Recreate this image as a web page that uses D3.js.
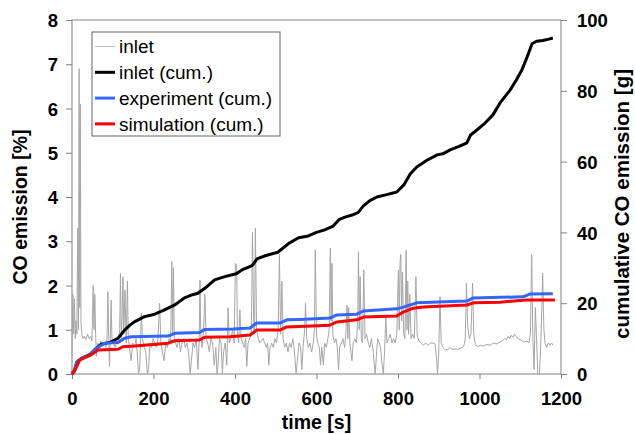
<!DOCTYPE html>
<html>
<head>
<meta charset="utf-8">
<script src="https://cdn.jsdelivr.net/npm/d3@7"></script>
<style>
  html, body { margin: 0; padding: 0; background: #fff; }
  svg { display: block; font-family: "Liberation Sans", Arial, sans-serif; }
</style>
</head>
<body>
<svg id="chart" width="635" height="434"></svg>
<script>
// ---------------- data ----------------
const xTicks = [0, 200, 400, 600, 800, 1000, 1200];
const leftTicks = [0, 1, 2, 3, 4, 5, 6, 7, 8];
const rightTicks = [0, 20, 40, 60, 80, 100];
const legendLabels = ["inlet", "inlet (cum.)", "experiment (cum.)", "simulation (cum.)"];

// inlet CO emission [%] vs time [s]
const inlet = [[0,0.4],[2,1.8],[4,0.9],[6,1.7],[8,0.8],[10,1.2],[12,0.9],[14,3.3],[16,1.0],[17.5,6.9],[19,1.5],[20.5,6.1],[22,1.2],[24,0.9],[27,0.8],[30,0.85],[34,0.78],[38,0.9],[42,0.8],[46,0.85],[49,0.75],[52,2.0],[54,1.0],[56,1.8],[58,0.9],[60,0.4],[63,0.7],[67,0.6],[71,0.75],[75,0.65],[79,0.7],[83,0.6],[86,0.8],[88,1.86],[90,0.9],[92,0.17],[94,0.8],[96,1.67],[98,0.8],[102,0.7],[106,0.6],[110,0.75],[114,0.7],[117,1.0],[119,2.27],[121,0.8],[123,1.3],[125,2.2],[127,0.9],[130,1.9],[133,0.7],[136,2.1],[138,0.8],[141,0.6],[145,0.3],[149,0.7],[153,0.6],[157,0.8],[160,0.5],[163,0.0],[166,0.1],[168,0.7],[170,1.37],[173,0.8],[177,0.6],[181,0.5],[185,0.0],[188,0.1],[191,0.7],[195,0.6],[199,0.8],[203,0.7],[207,0.6],[211,0.8],[215,1.6],[218,0.7],[222,0.5],[226,0.3],[230,0.7],[234,0.6],[238,0.8],[242,0.7],[245,2.54],[247,0.9],[249,2.4],[251,0.8],[254,0.7],[258,0.6],[262,0.8],[266,0.5],[270,0.7],[274,0.8],[278,0.6],[282,0.7],[286,0.5],[290,0.0],[293,0.3],[297,0.7],[301,0.6],[305,0.8],[309,0.1],[312,0.7],[314,2.12],[316,0.9],[319,0.6],[323,1.0],[326,1.8],[329,0.8],[333,0.7],[337,0.5],[341,0.8],[345,0.7],[349,0.2],[353,0.6],[356,0.0],[359,0.3],[362,0.8],[366,0.7],[369,0.0],[372,0.5],[376,0.7],[380,0.2],[383,1.5],[386,0.7],[390,0.8],[394,1.0],[398,0.7],[401,2.5],[404,2.46],[406,0.9],[409,0.7],[412,1.45],[415,0.8],[419,0.7],[423,0.6],[426,0.8],[429,0.17],[432,0.7],[436,0.8],[440,0.9],[443,3.2],[446,1.0],[448,0.9],[450,3.3],[453,1.0],[457,0.8],[461,0.7],[465,0.75],[469,0.8],[473,0.7],[477,0.6],[480,0.7],[483,0.2],[486,0.6],[490,0.7],[494,0.6],[498,0.8],[502,0.7],[506,1.0],[509,2.7],[512,0.9],[515,2.1],[518,0.8],[522,0.6],[526,0.7],[530,0.5],[534,0.7],[538,0.6],[542,0.8],[546,0.5],[550,0.0],[553,0.3],[557,0.7],[561,0.6],[564,0.1],[567,0.6],[571,1.0],[573,1.6],[576,0.8],[580,0.6],[584,0.7],[588,0.5],[592,0.7],[595,1.0],[597,2.8],[600,0.9],[603,0.7],[607,0.6],[610,0.2],[613,0.6],[617,0.2],[620,0.7],[624,0.6],[628,0.8],[631,1.0],[634,2.85],[636,1.2],[638,2.5],[640,0.9],[644,0.7],[648,0.8],[651,0.6],[654,0.1],[657,0.6],[661,0.7],[665,0.8],[669,0.6],[672,0.9],[675,1.56],[677,0.8],[679,1.5],[682,0.7],[687,0.3],[690,0.7],[694,0.8],[698,0.7],[701,1.2],[703,2.76],[705,1.0],[707,2.2],[710,0.8],[713,0.7],[716,2.35],[719,0.8],[723,0.9],[727,0.7],[731,0.6],[735,0.8],[739,0.5],[744,0.0],[747,0.4],[750,0.8],[754,0.7],[757,0.6],[760,0.3],[764,0.0],[767,0.5],[770,1.3],[773,0.7],[777,0.8],[781,0.9],[785,0.7],[789,0.8],[793,0.7],[797,0.9],[801,2.35],[803,1.0],[805,2.54],[807,2.7],[809,1.2],[811,2.3],[814,0.9],[817,0.8],[820,2.8],[822,1.0],[824,2.1],[826,0.9],[829,1.8],[832,0.8],[836,0.9],[840,0.8],[844,2.2],[847,0.9],[851,0.75],[856,0.7],[862,0.65],[868,0.7],[874,0.65],[880,0.7],[886,0.7],[891,0.68],[895,0.3],[897,0.0],[900,0.5],[903,1.75],[906,0.7],[910,0.6],[916,0.55],[922,0.55],[928,0.6],[934,0.55],[940,0.57],[946,0.55],[952,0.58],[958,0.6],[962,0.65],[965,0.8],[968,2.05],[971,1.07],[975,0.8],[979,0.9],[983,2.05],[986,0.9],[990,0.65],[996,0.62],[1002,0.65],[1010,0.63],[1018,0.67],[1026,0.65],[1034,0.7],[1042,0.68],[1050,0.72],[1056,0.75],[1061,0.8],[1066,0.78],[1070,0.85],[1074,0.8],[1078,0.88],[1082,0.83],[1086,0.9],[1090,0.85],[1094,0.8],[1099,0.78],[1104,0.75],[1110,0.72],[1116,0.75],[1121,0.7],[1125,0.9],[1128,2.7],[1131,0.8],[1134,0.1],[1137,1.5],[1140,0.8],[1143,0.0],[1147,0.0],[1150,0.6],[1153,1.5],[1155,2.28],[1158,1.0],[1161,0.7],[1165,0.6],[1169,0.7],[1173,0.65],[1177,0.7],[1180,0.65]];

// cumulative CO emission [g] vs time [s]
const inletCum = [[0,0],[5,0.6],[12,3.4],[25,4.5],[45,5.6],[60,7.3],[72,8.4],[95,9.0],[113,10.1],[129,12.4],[142,13.8],[154,14.8],[178,16.2],[203,16.9],[227,18.1],[252,19.5],[276,21.5],[296,22.4],[309,22.8],[326,24.2],[350,26.6],[375,27.5],[403,28.3],[417,29.4],[442,30.6],[454,32.5],[474,33.4],[505,34.4],[532,36.9],[556,38.5],[580,39.0],[600,40.0],[620,40.7],[641,41.8],[655,43.6],[670,44.3],[690,45.0],[702,45.6],[715,47.5],[731,49.0],[748,50.0],[770,50.6],[797,51.4],[815,53.5],[830,56.5],[846,58.5],[870,60.3],[896,61.9],[910,62.2],[928,63.3],[950,64.3],[969,65.3],[978,67.5],[989,68.5],[1010,70.5],[1033,73.2],[1050,76.5],[1075,80.2],[1090,83.0],[1104,85.9],[1115,89.0],[1129,93.3],[1140,94.0],[1155,94.2],[1170,94.6],[1180,94.9]];
const experimentCum = [[0,0],[5,0.6],[12,3.4],[25,4.5],[45,5.5],[60,7.3],[80,8.7],[113,8.9],[129,10.1],[146,10.5],[236,10.7],[252,11.5],[313,11.7],[326,12.6],[396,12.7],[437,13.0],[453,14.4],[510,14.4],[527,15.3],[560,15.4],[633,15.8],[650,16.7],[699,16.9],[715,17.8],[797,18.4],[813,18.9],[846,20.1],[969,20.6],[985,21.5],[1107,21.8],[1124,22.6],[1180,22.7]];
const simulationCum = [[0,0],[2,0.5],[7,1.0],[19,4.0],[47,5.4],[64,6.8],[113,7.0],[125,7.7],[154,7.9],[236,8.7],[252,9.4],[313,9.6],[326,10.4],[388,10.5],[437,11.0],[453,12.4],[510,12.4],[527,13.3],[633,13.8],[650,14.7],[699,15.3],[715,16.1],[797,16.4],[813,17.5],[837,18.6],[862,18.9],[969,19.5],[985,20.1],[1050,20.3],[1116,20.9],[1185,20.9]];

// ---------------- drawing ----------------
const svg = d3.select("#chart");
const L = 72, R = 561, T = 20, B = 374;
const frameColor = "#808080";

const x = d3.scaleLinear().domain([0, 1200]).range([L, R]);
const yL = d3.scaleLinear().domain([0, 8]).range([B, T]);
const yR = d3.scaleLinear().domain([0, 100]).range([B, T]);

// frame
svg.append("rect").attr("x", L).attr("y", T).attr("width", R - L).attr("height", B - T)
  .attr("fill", "none").attr("stroke", frameColor).attr("stroke-width", 1);

// axes
function styleAxis(g) {
  g.select(".domain").remove();
  g.selectAll(".tick line").attr("stroke", frameColor);
  g.selectAll(".tick text").attr("fill", "#000").attr("font-weight", "bold")
    .attr("font-size", "18.5px").attr("font-family", "'Liberation Sans', Arial, sans-serif");
}
const gx = svg.append("g").attr("transform", `translate(0,${B})`)
  .call(d3.axisBottom(x).tickValues(xTicks).tickSize(5).tickPadding(13).tickFormat(d3.format("d")));
styleAxis(gx);
gx.selectAll(".tick text").attr("dy", null).attr("y", 31);

const gyl = svg.append("g").attr("transform", `translate(${L},0)`)
  .call(d3.axisLeft(yL).tickValues(leftTicks).tickSize(6).tickPadding(8).tickFormat(d3.format("d")));
styleAxis(gyl);
gyl.selectAll(".tick text").attr("dy", "0.36em");

const gyr = svg.append("g").attr("transform", `translate(${R},0)`)
  .call(d3.axisRight(yR).tickValues(rightTicks).tickSize(6).tickPadding(10).tickFormat(d3.format("d")));
styleAxis(gyr);
gyr.selectAll(".tick text").attr("dy", "0.36em");

// axis titles
svg.append("text").attr("x", (L + R) / 2).attr("y", 429).attr("text-anchor", "middle")
  .attr("font-weight", "bold").attr("font-size", "19.5px").text("time [s]");
svg.append("text").attr("transform", `translate(27,${(T + B) / 2 + 10}) rotate(-90)`)
  .attr("text-anchor", "middle").attr("font-weight", "bold").attr("font-size", "19.5px")
  .text("CO emission [%]");
svg.append("text").attr("transform", `translate(629,${(T + B) / 2 + 7}) rotate(-90)`)
  .attr("text-anchor", "middle").attr("font-weight", "bold").attr("font-size", "20.5px")
  .text("cumulative CO emission [g]");

// lines
const lineL = d3.line().x(d => x(d[0])).y(d => yL(d[1]));
const lineR = d3.line().x(d => x(d[0])).y(d => yR(d[1]));
const plot = svg.append("g");
plot.append("path").datum(inlet).attr("d", lineL).attr("fill", "none")
  .attr("stroke", "#a6a6a6").attr("stroke-width", 1).attr("stroke-linejoin", "round");
plot.append("path").datum(inletCum).attr("d", lineR).attr("fill", "none")
  .attr("stroke", "#000").attr("stroke-width", 3).attr("stroke-linejoin", "round");
plot.append("path").datum(experimentCum).attr("d", lineR).attr("fill", "none")
  .attr("stroke", "#3366ff").attr("stroke-width", 3).attr("stroke-linejoin", "round");
plot.append("path").datum(simulationCum).attr("d", lineR).attr("fill", "none")
  .attr("stroke", "#ff0000").attr("stroke-width", 3).attr("stroke-linejoin", "round");

// legend
const legendColors = ["#bdbdbd", "#000", "#3366ff", "#ff0000"];
const legendWidths = [1, 3, 3, 3];
const lg = svg.append("g");
lg.append("rect").attr("x", 92).attr("y", 32).attr("width", 188).attr("height", 104)
  .attr("fill", "#fff").attr("stroke", "#666").attr("stroke-width", 1);
legendLabels.forEach((lab, i) => {
  const cy = 46.5 + i * 25.8;
  lg.append("line").attr("x1", 95).attr("x2", 115).attr("y1", cy).attr("y2", cy)
    .attr("stroke", legendColors[i]).attr("stroke-width", legendWidths[i]);
  lg.append("text").attr("x", 119).attr("y", cy).attr("dy", "0.35em")
    .attr("font-size", "19px").attr("fill", "#000").text(lab);
});
</script>
</body>
</html>
